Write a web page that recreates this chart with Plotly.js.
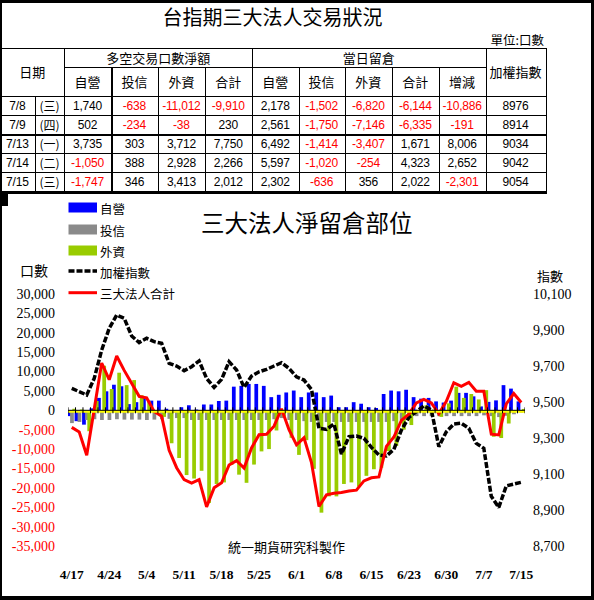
<!DOCTYPE html>
<html><head><meta charset="utf-8">
<script src="https://cdn.plot.ly/plotly-3.0.1.min.js"></script>
<style>
html,body{margin:0;padding:0;background:#fff;}
#wrap{position:relative;width:594px;height:600px;overflow:hidden;background:#fff;}
#chart{position:absolute;left:0;top:0;width:594px;height:600px;}
#table{position:absolute;left:0;top:0;width:594px;height:194px;background:#fff;z-index:2;}
.frame{position:absolute;left:0;top:0;width:594px;height:600px;box-sizing:border-box;border:3px solid #000;border-left-width:2px;border-bottom-width:4px;z-index:5;pointer-events:none;}
.t{position:absolute;display:flex;align-items:center;justify-content:center;white-space:nowrap;color:#000;}
.ln{position:absolute;background:#000;}
.cjk{font-family:"Noto Sans CJK TC","Noto Sans CJK SC",sans-serif;}
.num{font-family:"Liberation Sans",Arial,sans-serif;font-size:12px;letter-spacing:-0.2px;}
</style></head>
<body>
<div id="wrap">
  <div id="chart"></div>
  <div id="table"></div>
  <div class="frame"></div>
  <div class="ln" style="left:0;top:194px;width:8px;height:12px;z-index:6;"></div>
</div>
<script>
// ---------------- Table data ----------------
const tableDates    = ['7/8','7/9','7/13','7/14','7/15'];
const tableWeekdays = ['(三)','(四)','(一)','(二)','(三)'];
const tradeDealer   = [1740, 502, 3735, -1050, -1747];
const tradeTrust    = [-638, -234, 303, 388, 346];
const tradeForeign  = [-11012, -38, 3712, 2928, 3413];
const tradeTotal    = [-9910, 230, 7750, 2266, 2012];
const oiDealer      = [2178, 2561, 6492, 5597, 2302];
const oiTrust       = [-1502, -1750, -1414, -1020, -636];
const oiForeign     = [-6820, -7146, -3407, -254, 356];
const oiTotal       = [-6144, -6335, 1671, 4323, 2022];
const oiChange      = [-10886, -191, 8006, 2652, -2301];
const tableIndex    = [8976, 8914, 9034, 9042, 9054];

// ---------------- Chart data ----------------
const dates = ['4/17','4/20','4/21','4/22','4/23','4/24','4/27','4/28','4/29','4/30',
  '5/4','5/5','5/6','5/7','5/8','5/11','5/12','5/13','5/14','5/15',
  '5/18','5/19','5/20','5/21','5/22','5/25','5/26','5/27','5/28','5/29',
  '6/1','6/2','6/3','6/4','6/5','6/8','6/9','6/10','6/11','6/12',
  '6/15','6/16','6/17','6/18','6/22','6/23','6/24','6/25','6/26','6/29',
  '6/30','7/1','7/2','7/3','7/6','7/7','7/8','7/9','7/13','7/14','7/15'];
const tickDates = ['4/17','4/24','5/4','5/11','5/18','5/25','6/1','6/8','6/15','6/23','6/30','7/7','7/15'];

const dealer = [-1500,-2800,-3700,500,3200,4900,6600,6200,1600,2100,
  3400,2500,2500,400,-500,800,1300,200,1500,1500,
  2400,2500,6100,6300,6800,6800,6300,3400,4000,4600,
  5100,3400,4600,4600,3400,3800,800,800,2100,1700,
  800,600,4200,5100,4900,5300,3400,3000,3200,2300,
  2000,2500,4500,4500,3600,1000,2178,2561,6492,5597,2302];
const trust = [-3300,-3000,-2500,-2300,-2500,-2500,-2300,-2400,-2400,-2400,
  -2500,-2400,-2300,-2200,-2000,-2000,-2500,-2500,-2500,-2500,
  -2500,-2500,-2500,-2500,-2500,-2500,-2500,-2300,-2000,-2500,
  -2500,-2800,-3000,-3000,-3000,-3000,-3000,-3000,-3000,-3000,
  -3000,-3000,-3000,-2800,-2500,-2500,-1500,-1500,-1500,-1500,
  -1500,-1500,-1500,-1500,-1500,-1300,-1502,-1750,-1414,-1020,-636];
const foreign = [400,200,-5400,2400,11500,5500,9700,6500,7800,3900,
  2300,-400,-1700,-8500,-12300,-16700,-17600,-15600,-23900,-19000,
  -18600,-14100,-16600,-18700,-14000,-10600,-10000,-5200,-1600,-7100,
  -11500,-7700,-15100,-26400,-22200,-22200,-19000,-18600,-19700,-16900,
  -15200,-14800,-10500,-9200,-5000,-3800,100,1300,200,-1700,
  1800,6100,3200,4200,2800,5200,-6820,-7146,-3407,-254,356];
const total = [-4400,-5600,-11600,600,12200,7900,14000,10300,7000,3600,
  3200,-300,-1500,-10300,-14800,-17900,-18800,-17900,-24900,-20000,
  -18700,-14100,-13000,-14900,-9700,-6300,-6200,-4100,400,-5000,
  -8900,-7100,-13500,-24800,-21800,-21400,-21200,-20800,-20600,-18200,
  -17400,-17200,-9300,-6900,-2600,-1000,1900,2800,1900,-900,
  2300,7100,6200,7200,4900,4900,-6144,-6335,1671,4323,2022];
const taiex = [9576,9557,9539,9631,9789,9909,9983,9965,9867,9830,
  9854,9835,9826,9715,9700,9674,9696,9728,9631,9581,
  9626,9724,9678,9581,9644,9668,9681,9700,9718,9687,
  9640,9622,9570,9354,9348,9378,9211,9307,9311,9298,
  9248,9206,9200,9237,9344,9415,9446,9478,9456,9252,
  9335,9378,9382,9354,9270,9243,8976,8914,9034,9042,9054];

const leftTicks  = [30000,25000,20000,15000,10000,5000,0,-5000,-10000,-15000,-20000,-25000,-30000,-35000];
const rightTicks = [10100,9900,9700,9500,9300,9100,8900,8700];
const seriesNames = ['自營','投信','外資','加權指數','三大法人合計'];

// ---------------- Table drawing ----------------
const tbl = document.getElementById('table');
function box(x0,y0,x1,y1,html,cls,style){
  const d=document.createElement('div');
  d.className='t '+(cls||'');
  d.style.left=x0+'px'; d.style.top=y0+'px';
  d.style.width=(x1-x0)+'px'; d.style.height=(y1-y0)+'px';
  if(style) d.style.cssText+=style;
  d.innerHTML=html; tbl.appendChild(d); return d;
}
function hl(x0,x1,y,w){const d=document.createElement('div');d.className='ln';
  d.style.left=x0+'px';d.style.top=y+'px';d.style.width=(x1-x0)+'px';d.style.height=(w||1)+'px';tbl.appendChild(d);}
function vl(x,y0,y1,w){const d=document.createElement('div');d.className='ln';
  d.style.left=x+'px';d.style.top=y0+'px';d.style.width=(w||1)+'px';d.style.height=(y1-y0)+'px';tbl.appendChild(d);}

const CX=[0,34.8,64.4,110.6,158.3,204.5,251.9,298.5,344.7,392,438.6,485.6,545.5];
const HY=[47.5,67,96];
const RY=[96,115,134,153,172,191];

box(0,2,545,30,'台指期三大法人交易狀況','cjk','font-size:20px;');
box(440,30,544,48,'單位:口數','cjk','font-size:12.5px;justify-content:flex-end;');

box(CX[0],HY[0],CX[2],HY[2],'日期','cjk','font-size:13px;');
box(CX[2],HY[0],CX[6],HY[1],'多空交易口數淨額','cjk','font-size:13px;');
box(CX[6],HY[0],CX[11],HY[1],'當日留倉','cjk','font-size:13px;');
box(CX[11],HY[0],CX[12],HY[2],'加權指數','cjk','font-size:13px;');
const sub=['自營','投信','外資','合計','自營','投信','外資','合計','增減'];
sub.forEach((s,k)=>box(CX[k+2],HY[1],CX[k+3],HY[2],s,'cjk','font-size:13px;'));

function fmt(v){return v.toLocaleString('en-US');}
const numCols=[tradeDealer,tradeTrust,tradeForeign,tradeTotal,oiDealer,oiTrust,oiForeign,oiTotal,oiChange];
for(let r=0;r<tableDates.length;r++){
  const y0=RY[r],y1=RY[r+1];
  box(CX[0],y0,CX[1],y1,tableDates[r],'num');
  box(CX[1],y0,CX[2],y1,tableWeekdays[r],'cjk','font-size:12px;');
  numCols.forEach((arr,k)=>{
    const v=arr[r];
    box(CX[k+2],y0,CX[k+3],y1,fmt(v),'num',v<0?'color:#ff0000;':'');
  });
  box(CX[11],y0,CX[12],y1,String(tableIndex[r]),'num');
}
// lines
hl(0,CX[12]+1,HY[0],1);
hl(CX[2],CX[11],HY[1],1);
hl(0,CX[12]+1,HY[2],1);
hl(0,CX[12]+1,RY[1],1);
hl(0,CX[12]+1,RY[2],2);
hl(0,CX[12]+1,RY[3],1);
hl(0,CX[12]+1,RY[4],1);
hl(0,CX[12]+1,RY[5],3);
vl(CX[1],RY[0],RY[5]);
vl(CX[2],HY[0],RY[5]);
vl(CX[3],HY[1],RY[5],2);
[4,5,7,8,9,10].forEach(k=>vl(CX[k],HY[1],RY[5]));
vl(CX[6],HY[0],RY[5]);
vl(CX[11],HY[0],RY[5]);
vl(CX[12],HY[0],RY[5]);

// ---------------- Chart ----------------
const L=68,R=525,T=294,B=546;
const px=x=>(x-L)/(R-L);
const py=y=>(B-y)/(B-T);

const serif='"Liberation Serif","Times New Roman",serif';
const cjk='"Noto Sans CJK TC","Noto Sans CJK SC",sans-serif';

const traces=[
  {type:'bar',name:seriesNames[0],x:dates,y:dealer,yaxis:'y',marker:{color:'#0000ff',line:{width:0}},width:0.5,offset:-0.62},
  {type:'bar',name:seriesNames[1],x:dates,y:trust,yaxis:'y',marker:{color:'#8a8a8a',line:{width:0}},width:0.5,offset:-0.22},
  {type:'bar',name:seriesNames[2],x:dates,y:foreign,yaxis:'y',marker:{color:'#99cc00',line:{width:0}},width:0.5,offset:0.08},
  {type:'scatter',mode:'lines',name:seriesNames[3],x:dates,y:taiex,yaxis:'y2',line:{color:'#000',width:3.5,dash:'6px,2px'}},
  {type:'scatter',mode:'lines',name:seriesNames[4],x:dates,y:total,yaxis:'y3',line:{color:'#ff0000',width:3}}
];

const leftText=leftTicks.map(v=>v<0?'<span style="color:#ff0000">'+fmt(v)+'</span>':fmt(v));
const rightText=rightTicks.map(v=>fmt(v));

const shapes=[];
// zero line
shapes.push({type:'rect',xref:'paper',x0:0,x1:1,yref:'y',ysizemode:'pixel',yanchor:0,y0:-2.5,y1:0,fillcolor:'#ffff00',line:{width:0},layer:'above'});
shapes.push({type:'line',xref:'paper',x0:0,x1:1,yref:'y',y0:0,y1:0,line:{color:'#000',width:1},layer:'above'});
for(let k=0;k<=dates.length;k++){
  shapes.push({type:'line',xref:'x',x0:k-0.5,x1:k-0.5,yref:'y',ysizemode:'pixel',yanchor:0,y0:-3,y1:3,line:{color:'#000',width:1},layer:'above'});
}
// legend swatches
const legY=[207.5,229.5,250.5,271,292.7];
const legColors=['#0000ff','#8a8a8a','#99cc00'];
for(let k=0;k<3;k++){
  shapes.push({type:'rect',xref:'paper',yref:'paper',x0:px(68.5),x1:px(97),y0:py(legY[k]+5),y1:py(legY[k]-5),fillcolor:legColors[k],line:{width:0}});
}
shapes.push({type:'line',xref:'paper',yref:'paper',x0:px(68.5),x1:px(97),y0:py(legY[3]),y1:py(legY[3]),line:{color:'#000',width:3.5,dash:'6px,2px'}});
shapes.push({type:'line',xref:'paper',yref:'paper',x0:px(68.5),x1:px(97),y0:py(legY[4]),y1:py(legY[4]),line:{color:'#ff0000',width:3}});

const annotations=[];
seriesNames.forEach((n,k)=>annotations.push({xref:'paper',yref:'paper',x:px(98),y:py(legY[k]+1),xanchor:'left',yanchor:'middle',text:n,showarrow:false,font:{family:cjk,size:12.5,color:'#000'}}));
annotations.push({xref:'paper',yref:'paper',x:px(307),y:py(222),xanchor:'center',yanchor:'middle',text:'三大法人淨留倉部位',showarrow:false,font:{family:cjk,size:23.5,color:'#000'}});
annotations.push({xref:'paper',yref:'paper',x:px(33.5),y:py(270),xanchor:'center',yanchor:'middle',text:'口數',showarrow:false,font:{family:cjk,size:14,color:'#000'}});
annotations.push({xref:'paper',yref:'paper',x:px(535),y:py(275.5),xanchor:'left',yanchor:'middle',text:'指數',showarrow:false,font:{family:cjk,size:13,color:'#000'}});
annotations.push({xref:'paper',yref:'paper',x:px(286),y:py(546.5),xanchor:'center',yanchor:'middle',text:'統一期貨研究科製作',showarrow:false,font:{family:cjk,size:13,color:'#000'}});

const layout={
  width:594,height:600,
  margin:{l:L,r:594-R,t:T,b:600-B,pad:0},
  paper_bgcolor:'#fff',plot_bgcolor:'rgba(0,0,0,0)',
  showlegend:false,barmode:'overlay',
  xaxis:{type:'category',categoryorder:'array',categoryarray:dates,range:[-0.5,dates.length-0.5],
    tickmode:'array',tickvals:tickDates,ticktext:tickDates,showgrid:false,zeroline:false,showline:false,ticks:'',
    tickfont:{family:serif,size:13.5,color:'#000',weight:'bold'},ticklabelstandoff:18,tickangle:0},
  yaxis:{range:[-35000,30000],tickmode:'array',tickvals:leftTicks,ticktext:leftText,showgrid:false,zeroline:false,showline:false,ticks:'',
    tickfont:{family:serif,size:14,color:'#000'},ticklabelstandoff:12},
  yaxis2:{overlaying:'y',side:'right',range:[8700,10100],tickmode:'array',tickvals:rightTicks,ticktext:rightText,showgrid:false,zeroline:false,showline:false,ticks:'',
    tickfont:{family:serif,size:14,color:'#000'},ticklabelstandoff:7},
  yaxis3:{overlaying:'y',range:[-35000,30000],visible:false,showgrid:false,zeroline:false},
  shapes:shapes,annotations:annotations
};
Plotly.newPlot('chart',traces,layout,{displayModeBar:false,staticPlot:true});
</script>
</body></html>
